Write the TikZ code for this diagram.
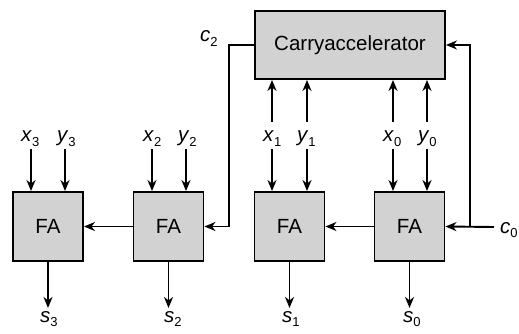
\documentclass[tikz,border=0pt]{standalone}
\usepackage{fontspec}
\setmainfont{Liberation Sans}
\usetikzlibrary{arrows.meta,calc}
\newcommand\lbl[2]{\textit{#1}\raisebox{-4.5pt}{\fontsize{13}{13}\selectfont #2}}
\begin{document}
\begin{tikzpicture}[x=1pt,y=-1pt,
  box/.style={draw=black,line width=1.9pt,fill=gray!35,inner sep=0pt,
    font=\fontsize{20.5}{24}\selectfont},
  fabox/.style={box,minimum width=70pt,minimum height=69pt},
  lab/.style={inner sep=0pt,anchor=base west,font=\fontsize{20.5}{24}\selectfont},
  arr/.style={line width=1.9pt,-{Stealth[length=11pt,width=9pt,inset=3.5pt]}},
  wire/.style={line width=1.9pt}]
\useasboundingbox (0,0) rectangle (519,334);
% boxes
\node[box,minimum width=190pt,minimum height=68pt] (CA) at (350,45) {Carryaccelerator};
\node[fabox] (FA3) at (48,226.5) {FA};
\node[fabox] (FA2) at (168.5,226.5) {FA};
\node[fabox] (FA1) at (289.5,226.5) {FA};
\node[fabox] (FA0) at (409.5,226.5) {FA};
% labels
\node[lab] (lx3) at (21,142) {\lbl{x}{3}};
\node[lab] (ly3) at (57,142) {\lbl{y}{3}};
\node[lab] (lx2) at (143,142) {\lbl{x}{2}};
\node[lab] (ly2) at (178,142) {\lbl{y}{2}};
\node[lab] (lx1) at (263,142) {\lbl{x}{1}};
\node[lab] (ly1) at (297,142) {\lbl{y}{1}};
\node[lab] (lx0) at (383,142) {\lbl{x}{0}};
\node[lab] (ly0) at (418,142) {\lbl{y}{0}};
\node[lab] (ls3) at (40,322) {\lbl{s}{3}};
\node[lab] (ls2) at (164,322) {\lbl{s}{2}};
\node[lab] (ls1) at (282,322) {\lbl{s}{1}};
\node[lab] (ls0) at (403,322) {\lbl{s}{0}};
\node[lab] (lc2) at (200,42) {\lbl{c}{2}};
\node[lab] (lc0) at (500,233) {\lbl{c}{0}};
% input points
\coordinate (a3) at (31,149);  \coordinate (b3) at (65,149);
\coordinate (a2) at (152,149); \coordinate (b2) at (186,149);
\coordinate (a1) at (272,149); \coordinate (b1) at (307,149);
\coordinate (a0) at (393,149); \coordinate (b0) at (427,149);
\coordinate (ta1) at (272,122); \coordinate (tb1) at (307,122);
\coordinate (ta0) at (393,122); \coordinate (tb0) at (427,122);
\foreach \p/\f in {a3/FA3,b3/FA3,a2/FA2,b2/FA2,a1/FA1,b1/FA1,a0/FA0,b0/FA0}
  \draw[arr] (\p) -- (\p |- \f.north);
\foreach \p in {ta1,tb1,ta0,tb0}
  \draw[arr] (\p) -- (\p |- CA.south);
% outputs
\foreach \f in {FA3,FA2,FA1,FA0}
  \draw[arr] (\f.south) -- ++(0,46);
% carries
\draw[arr] (FA2.west) -- (FA3.east);
\draw[arr] (FA0.west) -- (FA1.east);
\coordinate (k2) at (229,45);
\draw[arr] (CA.west) -- (k2) |- (FA2.east);
\coordinate (c0end) at (494,227);
\coordinate (k0) at (470,227);
\draw[arr] (c0end) -- (FA0.east);
\draw[arr] (k0) |- (CA.east);
\end{tikzpicture}
\end{document}
